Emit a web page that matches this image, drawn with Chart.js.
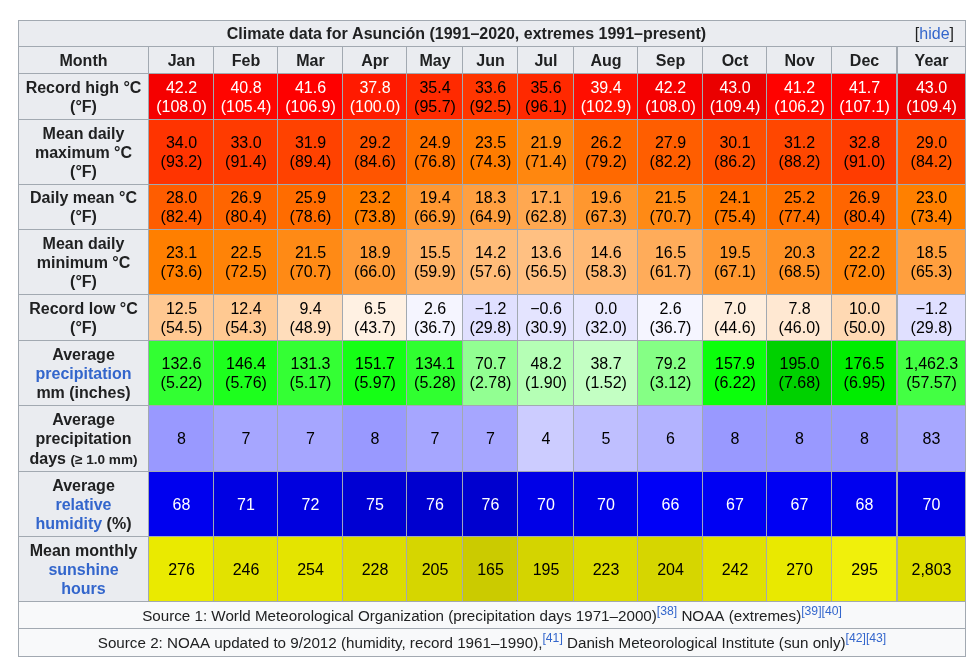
<!DOCTYPE html>
<html><head><meta charset="utf-8">
<script src="https://cdn.jsdelivr.net/npm/chart.js@4/dist/chart.umd.min.js"></script>
<style>html,body{margin:0;padding:0;background:#fff}#wrap{width:977px;height:672px}</style>
</head><body><div id="wrap"><canvas id="c" width="977" height="672"></canvas></div>
<script>
// ---------------- data ----------------
const titleText = 'Climate data for Asunción (1991–2020, extremes 1991–present)';
const months = ['Jan','Feb','Mar','Apr','May','Jun','Jul','Aug','Sep','Oct','Nov','Dec','Year'];
const recordHighC = [42.2,40.8,41.6,37.8,35.4,33.6,35.6,39.4,42.2,43.0,41.2,41.7,43.0];
const recordHighF = [108.0,105.4,106.9,100.0,95.7,92.5,96.1,102.9,108.0,109.4,106.2,107.1,109.4];
const meanMaxC = [34.0,33.0,31.9,29.2,24.9,23.5,21.9,26.2,27.9,30.1,31.2,32.8,29.0];
const meanMaxF = [93.2,91.4,89.4,84.6,76.8,74.3,71.4,79.2,82.2,86.2,88.2,91.0,84.2];
const dailyMeanC = [28.0,26.9,25.9,23.2,19.4,18.3,17.1,19.6,21.5,24.1,25.2,26.9,23.0];
const dailyMeanF = [82.4,80.4,78.6,73.8,66.9,64.9,62.8,67.3,70.7,75.4,77.4,80.4,73.4];
const meanMinC = [23.1,22.5,21.5,18.9,15.5,14.2,13.6,14.6,16.5,19.5,20.3,22.2,18.5];
const meanMinF = [73.6,72.5,70.7,66.0,59.9,57.6,56.5,58.3,61.7,67.1,68.5,72.0,65.3];
const recordLowC = [12.5,12.4,9.4,6.5,2.6,-1.2,-0.6,0.0,2.6,7.0,7.8,10.0,-1.2];
const recordLowF = [54.5,54.3,48.9,43.7,36.7,29.8,30.9,32.0,36.7,44.6,46.0,50.0,29.8];
const precipMm = [132.6,146.4,131.3,151.7,134.1,70.7,48.2,38.7,79.2,157.9,195.0,176.5,1462.3];
const precipIn = [5.22,5.76,5.17,5.97,5.28,2.78,1.90,1.52,3.12,6.22,7.68,6.95,57.57];
const precipDays = [8,7,7,8,7,7,4,5,6,8,8,8,83];
const humidity = [68,71,72,75,76,76,70,70,66,67,67,68,70];
const sunshine = [276,246,254,228,205,165,195,223,204,242,270,295,2803];

// ---------------- layout / style ----------------
const colEdges = [18,148,213,277,342,406,462,517,573,637,702,766,831,896,965];
const rowEdges = [20,46,73,119,184,229,294,340,405,471,536,601,628,656];
const FONT = '"Liberation Sans", Arial, Helvetica, sans-serif';
const LINK = '#3366cc', TXT = '#202122', HEAD_BG = '#eaecf0', SRC_BG = '#f8f9fa', BORDER = '#a2a9b1';

const B = t => ({t, b:true});
const L = t => ({t, b:true, c:LINK});
const N = t => ({t});
const SN = t => ({t, size:15.2});
const S = t => ({t, c:LINK, size:12.2, sup:true});

function fmt(v, d){
  const s = Math.abs(v).toFixed(d).split('.');
  s[0] = s[0].replace(/\B(?=(\d{3})+(?!\d))/g, ',');
  return (v < 0 ? '−' : '') + s.join('.');
}
const rgb = (r,g,b) => `rgb(${Math.round(r)},${Math.round(g)},${Math.round(b)})`;
function tempColor(t){
  let r, g, b;
  if (t < -42.75) r = 0; else if (t < 4.47) r = (t+42.75)/47.22; else if (t <= 41.5) r = 1; else if (t < 60) r = 1-(t-41.5)/18.5; else r = 0;
  if (t < -42.75) g = 0; else if (t < 4.47) g = (t+42.75)/47.22; else if (t <= 4.5) g = 1; else if (t < 41.5) g = 1-(t-4.5)/37; else g = 0;
  if (t < -90) b = 0; else if (t < -42.78) b = (t+90)/47.22; else if (t <= 4.5) b = 1; else if (t < 23) b = 1-(t-4.5)/18.5; else b = 0;
  return rgb(255*r,255*g,255*b);
}
const tempText = t => (t >= 37.8 || t < -23.3) ? '#ffffff' : '#000000';
function precipColor(v){
  const rb = v < 165 ? 255*(1 - v/165) : 0;
  const g = v <= 165 ? 255 : Math.max(0, 255*(1-(v-165)/165));
  return rgb(rb, g, rb);
}
const daysColor = v => { const x = Math.max(0, 255*(1 - v/20)); return rgb(x, x, 255); };
const humColor = v => rgb(0, 0, 255 - Math.max(0, v-64)*4);
const sunColor = v => rgb(Math.min(255,157+0.28*v), Math.min(255,157+0.28*v), Math.max(0,(v-280)*0.7));

const headerLines = [
  [[B('Month')]],
  [[B('Record high °C')],[B('(°F)')]],
  [[B('Mean daily')],[B('maximum °C')],[B('(°F)')]],
  [[B('Daily mean °C')],[B('(°F)')]],
  [[B('Mean daily')],[B('minimum °C')],[B('(°F)')]],
  [[B('Record low °C')],[B('(°F)')]],
  [[B('Average')],[L('precipitation')],[B('mm (inches)')]],
  [[B('Average')],[B('precipitation')],[B('days '),{t:'(≥ 1.0 mm)', b:true, size:13.6}]],
  [[B('Average')],[L('relative')],[L('humidity'),B(' (%)')]],
  [[B('Mean monthly')],[L('sunshine')],[L('hours')]]
];

// per-row cell builders: returns {bg, color, lines}
const rowDefs = [
  i => ({bg:HEAD_BG, color:TXT, lines:[[B(months[i])]]}),
  i => ({bg:tempColor(recordHighC[i]), color:tempText(recordHighC[i]), lines:[[N(fmt(recordHighC[i],1))],[N('('+fmt(recordHighF[i],1)+')')]]}),
  i => ({bg:tempColor(meanMaxC[i]), color:tempText(meanMaxC[i]), lines:[[N(fmt(meanMaxC[i],1))],[N('('+fmt(meanMaxF[i],1)+')')]]}),
  i => ({bg:tempColor(dailyMeanC[i]), color:tempText(dailyMeanC[i]), lines:[[N(fmt(dailyMeanC[i],1))],[N('('+fmt(dailyMeanF[i],1)+')')]]}),
  i => ({bg:tempColor(meanMinC[i]), color:tempText(meanMinC[i]), lines:[[N(fmt(meanMinC[i],1))],[N('('+fmt(meanMinF[i],1)+')')]]}),
  i => ({bg:tempColor(recordLowC[i]), color:tempText(recordLowC[i]), lines:[[N(fmt(recordLowC[i],1))],[N('('+fmt(recordLowF[i],1)+')')]]}),
  i => { const v = i === 12 ? precipMm[i]/12 : precipMm[i];
         return {bg:precipColor(v), color:'#000000', lines:[[N(fmt(precipMm[i],1))],[N('('+fmt(precipIn[i],2)+')')]]}; },
  i => { const v = i === 12 ? precipDays[i]/12 : precipDays[i];
         return {bg:daysColor(v), color:'#000000', lines:[[N(fmt(precipDays[i],0))]]}; },
  i => ({bg:humColor(humidity[i]), color:'#ffffff', lines:[[N(fmt(humidity[i],0))]]}),
  i => { const v = i === 12 ? sunshine[i]/12 : sunshine[i];
         return {bg:sunColor(v), color:'#000000', lines:[[N(fmt(sunshine[i],0))]]}; }
];

const source1 = [SN('Source 1: World Meteorological Organization (precipitation days 1971–2000)'), S('[38]'), SN(' NOAA (extremes)'), S('[39][40]')];
const source2 = [SN('Source 2: NOAA updated to 9/2012 (humidity, record 1961–1990),'), S('[41]'), SN(' Danish Meteorological Institute (sun only)'), S('[42][43]')];

// ---------------- build rows ----------------
const nCols = colEdges.length - 1;
const xL = c => c === 0 ? colEdges[0] : colEdges[c]+1;
const xR = c => colEdges[c+1]+1;
const rows = [];
function rowY(r){ return [r === 0 ? rowEdges[0] : rowEdges[r]+1, rowEdges[r+1]+1]; }
function bw(top, left){ return {top: top?1:0, left: left?1:0, right:1, bottom:1}; }

rows.push({y: rowY(0), cells:[{x0:colEdges[0], x1:colEdges[nCols]+1, bg:HEAD_BG, color:TXT,
  lines:[[B(titleText)]], right:[N('['),{t:'hide',c:LINK},N(']')], rightPad:12, bw:bw(true,true)}]});
for (let r = 0; r < rowDefs.length; r++){
  const cells = [];
  cells.push({x0:xL(0), x1:xR(0), bg:HEAD_BG, color:TXT, lines:headerLines[r], bw:bw(false,true)});
  for (let i = 0; i < months.length; i++){
    const c = i + 1;
    const d = rowDefs[r](i);
    cells.push(Object.assign({x0:xL(c), x1:xR(c), bw:bw(false, c === nCols-1)}, d));
  }
  rows.push({y: rowY(r+1), cells});
}
rows.push({y: rowY(11), cells:[{x0:colEdges[0], x1:colEdges[nCols]+1, bg:SRC_BG, color:TXT, lines:[source1], bw:bw(false,true)}]});
rows.push({y: rowY(12), cells:[{x0:colEdges[0], x1:colEdges[nCols]+1, bg:SRC_BG, color:TXT, lines:[source2], bw:bw(false,true)}]});

const datasets = rows.map(row => {
  const cells = row.cells;
  return {
    data: cells.map(c => ({x:[c.x0, c.x1], y:(row.y[0]+row.y[1])/2})),
    barThickness: row.y[1]-row.y[0],
    backgroundColor: cells.map(c => c.bg),
    borderColor: BORDER,
    borderWidth: ctx => (cells[ctx.dataIndex] ? cells[ctx.dataIndex].bw : 1),
    borderSkipped: false,
    inflateAmount: 0,
    grouped: false,
    cellInfo: cells
  };
});

// ---------------- text plugin ----------------
function segFont(s){ return (s.b ? 'bold ' : '') + (s.size || 16) + 'px ' + FONT; }
function lineW(ctx, line){ let w = 0; for (const s of line){ ctx.font = segFont(s); w += ctx.measureText(s.t).width; } return w; }
function drawLine(ctx, line, x, base, col){
  for (const s of line){ ctx.font = segFont(s); ctx.fillStyle = s.c || col;
    ctx.fillText(s.t, x, base - (s.sup ? 6 : 0)); x += ctx.measureText(s.t).width; }
}
const textPlugin = {
  id:'cellText',
  afterDatasetsDraw(chart){
    const ctx = chart.ctx;
    ctx.save(); ctx.textBaseline = 'alphabetic'; ctx.textAlign = 'left';
    chart.data.datasets.forEach((ds, di) => {
      chart.getDatasetMeta(di).data.forEach((el, j) => {
        const p = el.getProps(['x','base','y','height'], true);
        const left = Math.min(p.x, p.base), right = Math.max(p.x, p.base);
        const cell = ds.cellInfo[j];
        const cy0 = p.y - 0.5;
        let cx = (left + right) / 2;
        if (cell.right){
          const rw = lineW(ctx, cell.right);
          const rx = right - cell.rightPad - rw;
          drawLine(ctx, cell.right, rx, cy0 + 5.8, TXT);
          cx = (left + rx) / 2;
        }
        const n = cell.lines.length, lh = 19.2;
        cell.lines.forEach((line, k) => {
          const cy = cy0 + (k - (n-1)/2) * lh;
          const w = lineW(ctx, line);
          drawLine(ctx, line, cx - w/2, cy + 5.8, cell.color);
        });
      });
    });
    ctx.restore();
  }
};

new Chart(document.getElementById('c'), {
  type:'bar',
  data:{ datasets },
  options:{
    indexAxis:'y',
    responsive:false,
    animation:false,
    layout:{padding:0},
    plugins:{legend:{display:false}, tooltip:{enabled:false}},
    scales:{
      x:{type:'linear', min:0, max:977, offset:false, display:false},
      y:{type:'linear', min:0, max:672, reverse:true, offset:false, display:false}
    }
  },
  plugins:[textPlugin]
});
</script>
</body></html>
